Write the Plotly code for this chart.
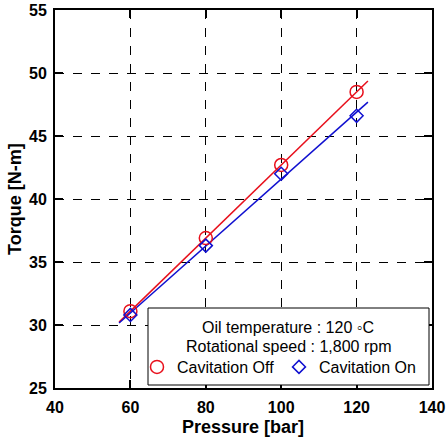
import numpy as np
import plotly.graph_objects as go

pressure = [60, 80, 100, 120]
torque_off = [31.1, 36.9, 42.7, 48.5]
torque_on = [30.8, 36.3, 42.0, 46.6]
fit_range = [57, 123]
x_ticks = [40, 60, 80, 100, 120, 140]
y_ticks = [25, 30, 35, 40, 45, 50, 55]

fig = go.Figure()

fx = np.array(fit_range, dtype=float)
for ys, col in [(torque_off, "#e8101c"), (torque_on, "#1010d0")]:
    k, b = np.polyfit(pressure, ys, 1)
    fig.add_trace(go.Scatter(x=fx, y=k * fx + b, mode="lines",
                             line=dict(color=col, width=1.5), showlegend=False,
                             hoverinfo="skip"))

fig.add_trace(go.Scatter(x=pressure, y=torque_off, mode="markers", name="Cavitation Off",
                         marker=dict(symbol="circle-open", size=13, color="#e8101c",
                                     line=dict(width=1.5))))
fig.add_trace(go.Scatter(x=pressure, y=torque_on, mode="markers", name="Cavitation On",
                         marker=dict(symbol="diamond-open", size=10, color="#1010d0",
                                     line=dict(width=1.5))))

FONT = "Liberation Sans"
axis_common = dict(showline=True, linecolor="black", linewidth=2, mirror="ticks",
                   ticks="inside", ticklen=8, tickwidth=2, tickcolor="black",
                   showgrid=True, gridcolor="black", gridwidth=1, griddash="dash",
                   zeroline=False, automargin=False,
                   tickfont=dict(family=FONT, size=16, color="black", weight="bold"))

fig.update_xaxes(range=[40, 140], tickvals=x_ticks, ticktext=[str(v) for v in x_ticks],
                 ticklabelstandoff=4, **axis_common)
fig.update_yaxes(range=[25, 55], tickvals=y_ticks, ticktext=[str(v) for v in y_ticks],
                 ticklabelstandoff=3, **axis_common)

W, H = 448, 439
L, R, T, B = 55, 16, 10, 51
pw, ph = W - L - R, H - T - B


def px_x(p):
    return (p - L) / pw


def px_y(p):
    return (H - B - p) / ph


title_font = dict(family=FONT, size=18, color="black", weight="bold")
fig.add_annotation(xref="paper", yref="paper", x=px_x(243), y=px_y(427),
                   text="Pressure [bar]", showarrow=False, font=title_font,
                   xanchor="center", yanchor="middle")
fig.add_annotation(xref="paper", yref="paper", x=px_x(15), y=px_y(199),
                   text="Torque [N-m]", showarrow=False, font=title_font, textangle=-90,
                   xanchor="center", yanchor="middle")

fig.add_shape(type="rect", xref="paper", yref="paper",
              x0=px_x(148), x1=px_x(429), y0=px_y(385), y1=px_y(308),
              line=dict(color="black", width=1), fillcolor="white", layer="above")

leg_font = dict(family=FONT, size=16, color="black")
fig.add_annotation(xref="paper", yref="paper", x=px_x(288), y=px_y(327),
                   text="Oil temperature : 120 \u25e6C", showarrow=False, font=leg_font,
                   xanchor="center", yanchor="middle")
fig.add_annotation(xref="paper", yref="paper", x=px_x(288), y=px_y(346),
                   text="Rotational speed : 1,800 rpm", showarrow=False, font=leg_font,
                   xanchor="center", yanchor="middle")

fig.update_layout(
    width=W, height=H,
    margin=dict(l=L, r=R, t=T, b=B),
    plot_bgcolor="white", paper_bgcolor="white",
    showlegend=True,
    legend=dict(orientation="h", x=px_x(137), y=px_y(367), xanchor="left",
                yanchor="middle", bgcolor="rgba(0,0,0,0)", borderwidth=0,
                font=leg_font, itemwidth=30, entrywidth=97, entrywidthmode="pixels"),
)

fig.write_html("out.html", config={"displayModeBar": False},
               post_script="document.body.style.margin='0';document.body.style.padding='0';")
